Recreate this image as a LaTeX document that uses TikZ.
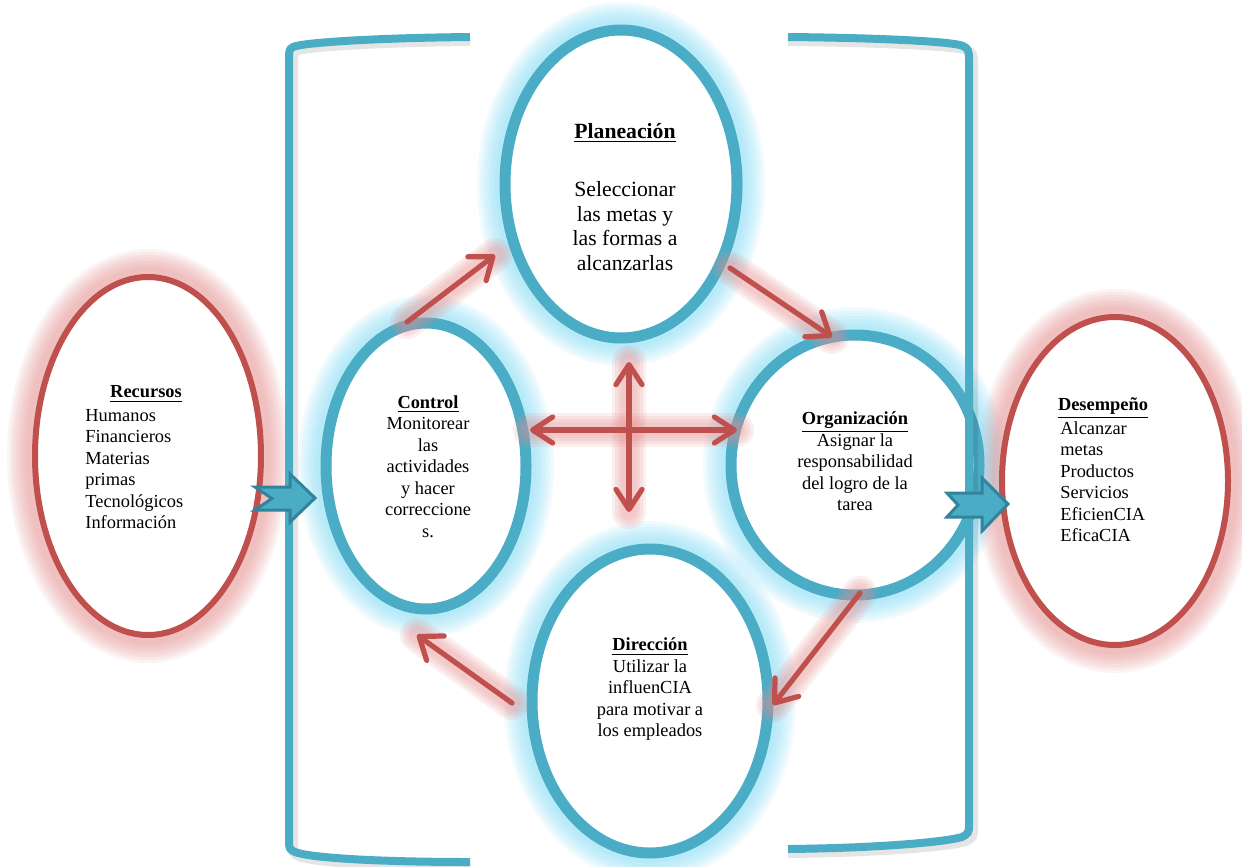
\documentclass[tikz,border=0pt]{standalone}
\usepackage{fontspec}
\setmainfont{Liberation Serif}
\usetikzlibrary{arrows.meta,shapes.geometric}
\definecolor{tealc}{HTML}{4BACC6}
\definecolor{tealdark}{HTML}{31849B}
\definecolor{redc}{HTML}{C0504D}
\definecolor{cyanglow}{RGB}{130,220,246}
\definecolor{pinkglow}{RGB}{232,140,140}
\tikzset{
  tealell/.style={ellipse, draw=tealc, line width=5.5pt, fill=white, inner sep=0pt},
  redell/.style={ellipse, draw=redc, line width=3pt, fill=white, inner sep=0pt},
  bracketline/.style={draw=tealc, line width=4pt, line cap=butt},
  bracketshadow/.style={draw=black, opacity=0.10, line width=5pt},
  redarrow/.style={draw=redc, line width=2.6pt, line cap=round,
    -{Straight Barb[length=10pt,width=15pt,round]}},
  redarrowboth/.style={draw=redc, line width=2.6pt, line cap=round,
    {Straight Barb[length=10pt,width=13pt,round]}-{Straight Barb[length=10pt,width=13pt,round]}},
  arrowglow/.style={draw=pinkglow, line width=#1, line cap=round, opacity=0.14},
  blockarrow/.style={fill=tealc, draw=tealdark, line width=1.5pt, line join=miter},
  txt/.style={font=\fontsize{9.2}{10.75}\selectfont, align=center, inner sep=0pt},
  txtl/.style={font=\fontsize{9.2}{10.75}\selectfont, align=left, inner sep=0pt, anchor=west},
  txtbig/.style={font=\fontsize{10.85}{12.35}\selectfont, align=center, inner sep=0pt}
}
\begin{document}
\begin{tikzpicture}[x=0.5pt,y=-0.5pt]
\useasboundingbox (0,0) rectangle (1242,867);
\fill[white] (0,0) rectangle (1242,867);

% ---- glows of the ellipses
\foreach \w in {28pt,25pt,22pt,19pt,16pt,13pt,10pt}{
  \draw[draw=cyanglow, line width=\w, opacity=0.11] (621,184) ellipse [x radius=116, y radius=154];
  \draw[draw=cyanglow, line width=\w, opacity=0.11] (426,466) ellipse [x radius=100, y radius=143];
  \draw[draw=cyanglow, line width=\w, opacity=0.11] (855,465) ellipse [x radius=124, y radius=130];
  \draw[draw=cyanglow, line width=\w, opacity=0.11] (650,701) ellipse [x radius=118, y radius=152];
  \draw[draw=pinkglow, line width=\w, opacity=0.10] (148,456) ellipse [x radius=113, y radius=179];
  \draw[draw=pinkglow, line width=\w, opacity=0.10] (1115,481) ellipse [x radius=113, y radius=164];
}

% ---- ellipses
\node[tealell, minimum width=116pt, minimum height=154pt] (plan) at (621,184) {};
\node[tealell, minimum width=100pt, minimum height=143pt] (ctrl) at (426,466) {};
\node[tealell, minimum width=124pt, minimum height=130pt] (org) at (855,465) {};
\node[tealell, minimum width=118pt, minimum height=152pt] (dir) at (650,701) {};
\node[redell, minimum width=113pt, minimum height=179pt] (rec) at (148,456) {};
\node[redell, minimum width=113pt, minimum height=164pt] (des) at (1115,481) {};

% ---- brackets
\draw[bracketshadow] (470,41) .. controls (370,42) and (300,47) .. (296,51) .. controls (293,53) and (293,56) .. (293,62) -- (293,846) .. controls (293,852) and (294,854) .. (299,856) .. controls (314,862) and (380,866) .. (470,866);
\draw[bracketline] (470,37) .. controls (370,38) and (300,43) .. (293,47) .. controls (289,49) and (289,52) .. (289,58) -- (289,842) .. controls (289,848) and (290,850) .. (295,852) .. controls (310,858) and (380,862) .. (470,862);
\draw[bracketshadow] (788,41) .. controls (890,42) and (959,46) .. (967,50) .. controls (972,52) and (973,56) .. (973,62) -- (973,830) .. controls (973,836) and (972,838) .. (966,841) .. controls (949,846) and (884,852) .. (788,853);
\draw[bracketline] (788,37) .. controls (890,38) and (955,42) .. (963,46) .. controls (968,48) and (969,52) .. (969,58) -- (969,826) .. controls (969,832) and (968,834) .. (962,837) .. controls (945,842) and (880,848) .. (788,849);

% ---- red arrows
\coordinate (a1s) at (407,322); \coordinate (a1e) at (495,255);
\coordinate (a2s) at (730,268); \coordinate (a2e) at (832,337);
\coordinate (a3s) at (860,593); \coordinate (a3e) at (773,705);
\coordinate (a4s) at (512,703); \coordinate (a4e) at (417,635);
\coordinate (cvt) at (629,362); \coordinate (cvb) at (629,512);
\coordinate (chl) at (530,430); \coordinate (chr) at (737,430);
\foreach \s/\e in {a1s/a1e, a2s/a2e, a3s/a3e, a4s/a4e, cvt/cvb, chl/chr}{
  \foreach \w in {17pt,14pt,11pt,8pt}{
    \draw[arrowglow=\w] (\s) -- (\e);
  }
}
\draw[redarrow] (a1s) -- (a1e);
\draw[redarrow] (a2s) -- (a2e);
\draw[redarrow] (a3s) -- (a3e);
\draw[redarrow] (a4s) -- (a4e);
\draw[redarrowboth] (cvt) -- (cvb);
\draw[redarrowboth] (chl) -- (chr);

% ---- block arrows
\draw[blockarrow] (255,487) -- (290,487) -- (290,474) -- (315,498) -- (290,522) -- (290,510) -- (255,510) -- (272,498.5) -- cycle;
\draw[blockarrow] (947,493) -- (982,493) -- (982,478) -- (1008,504) -- (982,531) -- (982,517) -- (947,517) -- (958,505) -- cycle;

% ---- texts
\node[txtbig] (planh) at (625,133) {\underline{\textbf{Planeación}}};
\node[txtbig] (planb) at (625,226) {Seleccionar\\las metas y\\las formas a\\alcanzarlas};

\node[txt] (rech) at (146,394) {\underline{\textbf{Recursos}}};
\node[txtl] (recb) at (85,469) {Humanos\\Financieros\\Materias\\primas\\Tecnológicos\\Información};

\node[txt] (ctrlt) at (428,466.5) {\underline{\textbf{Control}}\\Monitorear\\las\\actividades\\y hacer\\correccione\\s.};

\node[txt] (orgt) at (855,461.5) {\underline{\textbf{Organización}}\\Asignar la\\responsabilidad\\del logro de la\\tarea};

\node[txt] (dirt) at (650,689.5) {\underline{\textbf{Dirección}}\\Utilizar la\\influenCIA\\para motivar a\\los empleados};

\node[txt] (desh) at (1103,408) {\underline{\textbf{Desempeño}}};
\node[txtl] (desb) at (1060,481.5) {Alcanzar\\metas\\Productos\\Servicios\\EficienCIA\\EficaCIA};
\end{tikzpicture}
\end{document}
